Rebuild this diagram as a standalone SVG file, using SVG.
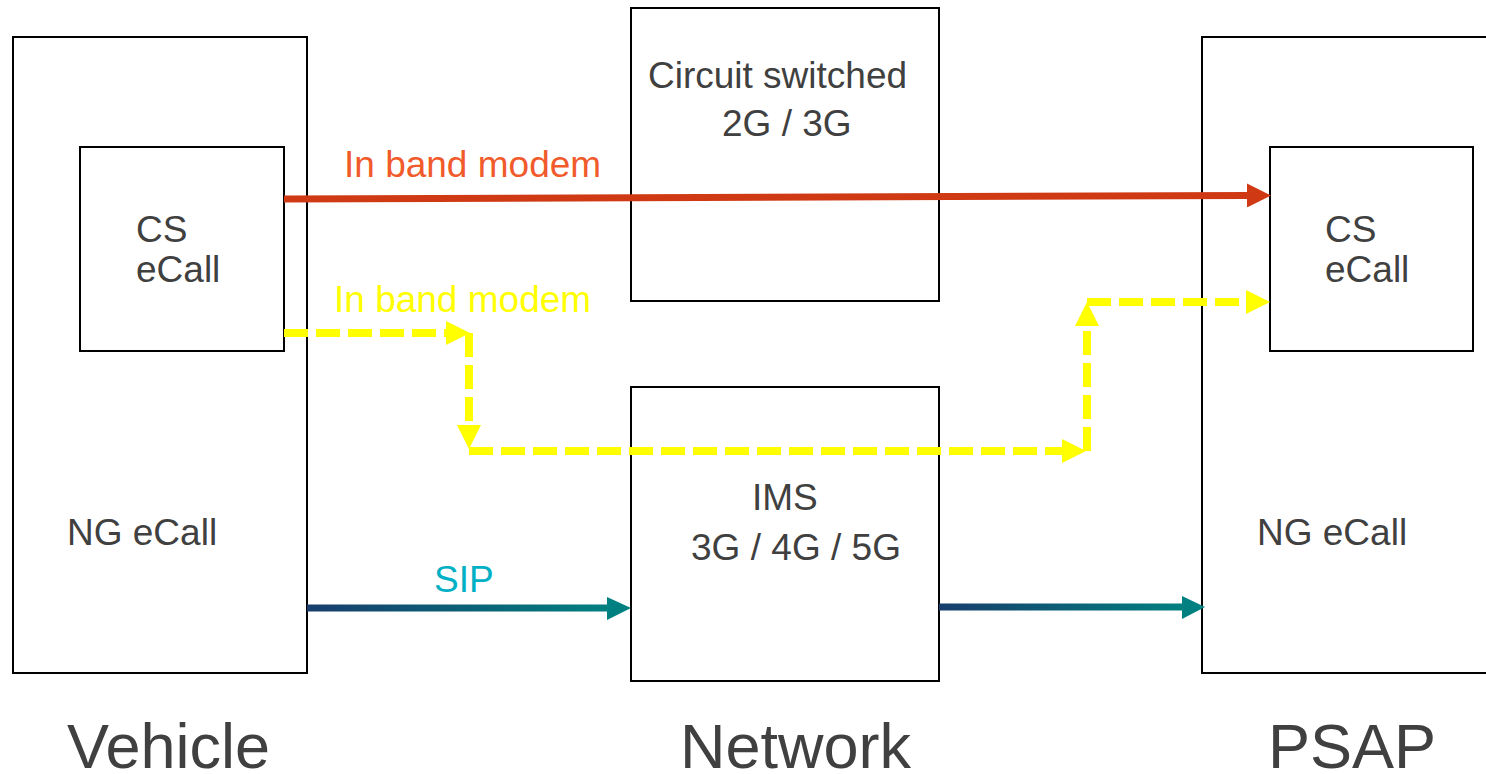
<svg xmlns="http://www.w3.org/2000/svg" width="1486" height="774" viewBox="0 0 1486 774">
  <defs>
    <style>
      .box { fill: #ffffff; stroke: #000000; stroke-width: 2; }
      .lbl { font-family: "Liberation Sans", Arial, sans-serif; font-size: 37px; fill: #404040; }
      .big { font-family: "Liberation Sans", Arial, sans-serif; font-size: 63px; fill: #404040; }
      .red { fill: none; stroke: #cf3a14; stroke-width: 7; }
      .yel { fill: none; stroke: #ffff00; stroke-width: 8; stroke-dasharray: 24 8; }
    </style>
    <linearGradient id="sipGrad" x1="0" y1="0" x2="1" y2="0">
      <stop offset="0" stop-color="#173d6c"/>
      <stop offset="1" stop-color="#008080"/>
    </linearGradient>
    <marker id="headRed" markerUnits="userSpaceOnUse" markerWidth="24" markerHeight="24" refX="0" refY="12" orient="auto" viewBox="0 0 24 24">
      <polygon points="0,0 24,12 0,24" fill="#cf3a14"/>
    </marker>
    <marker id="headYel" markerUnits="userSpaceOnUse" markerWidth="24" markerHeight="24" refX="0" refY="12" orient="auto" viewBox="0 0 24 24">
      <polygon points="0,0 24,12 0,24" fill="#ffff00"/>
    </marker>
  </defs>
  <rect width="1486" height="774" fill="#ffffff"/>

  <g id="vehicle">
    <rect class="box" x="13" y="37" width="294" height="636"/>
    <text class="lbl" x="67" y="545">NG eCall</text>
    <text class="big" x="67" y="768">Vehicle</text>
  </g>
  <g id="vehicle-cs">
    <rect class="box" x="80" y="147" width="204" height="204"/>
    <text class="lbl" x="136" y="242">CS</text>
    <text class="lbl" x="136" y="282">eCall</text>
  </g>
  <g id="circuit">
    <rect class="box" x="631" y="8" width="308" height="293"/>
    <text class="lbl" x="648" y="88">Circuit switched</text>
    <text class="lbl" x="722" y="136">2G / 3G</text>
  </g>
  <g id="ims">
    <rect class="box" x="631" y="387" width="308" height="294"/>
    <text class="lbl" x="752" y="510">IMS</text>
    <text class="lbl" x="691" y="560" textLength="210">3G / 4G / 5G</text>
    <text class="big" x="680" y="768">Network</text>
  </g>
  <g id="psap">
    <rect class="box" x="1202" y="37" width="300" height="636"/>
    <text class="lbl" x="1257" y="545">NG eCall</text>
    <text class="big" x="1268" y="768">PSAP</text>
  </g>
  <g id="psap-cs">
    <rect class="box" x="1270" y="147" width="203" height="204"/>
    <text class="lbl" x="1325" y="242">CS</text>
    <text class="lbl" x="1325" y="282">eCall</text>
  </g>

  <g id="connectors">
    <path class="red" d="M284,199 L1247,195.5" marker-end="url(#headRed)"/>
    <text class="lbl" x="344" y="177" style="fill:#f15a2b">In band modem</text>

    <path class="yel" d="M284,333 L446,333" marker-end="url(#headYel)"/>
    <path class="yel" d="M469,333 L469,425" marker-end="url(#headYel)"/>
    <path class="yel" d="M469,451 L1062,451" marker-end="url(#headYel)"/>
    <path class="yel" d="M1087,451 L1087,326" marker-end="url(#headYel)"/>
    <path class="yel" d="M1087,302 L1246,302" marker-end="url(#headYel)"/>
    <text class="lbl" x="334" y="312" style="fill:#ffff00">In band modem</text>

    <rect x="307" y="604.5" width="301" height="7" fill="url(#sipGrad)"/>
    <polygon points="607,597 631,608 607,620" fill="#008080"/>
    <text class="lbl" x="434" y="592" style="fill:#00b0c4">SIP</text>

    <rect x="939" y="603.5" width="244" height="7" fill="url(#sipGrad)"/>
    <polygon points="1182,596 1205,607 1182,619" fill="#008080"/>
  </g>
</svg>
